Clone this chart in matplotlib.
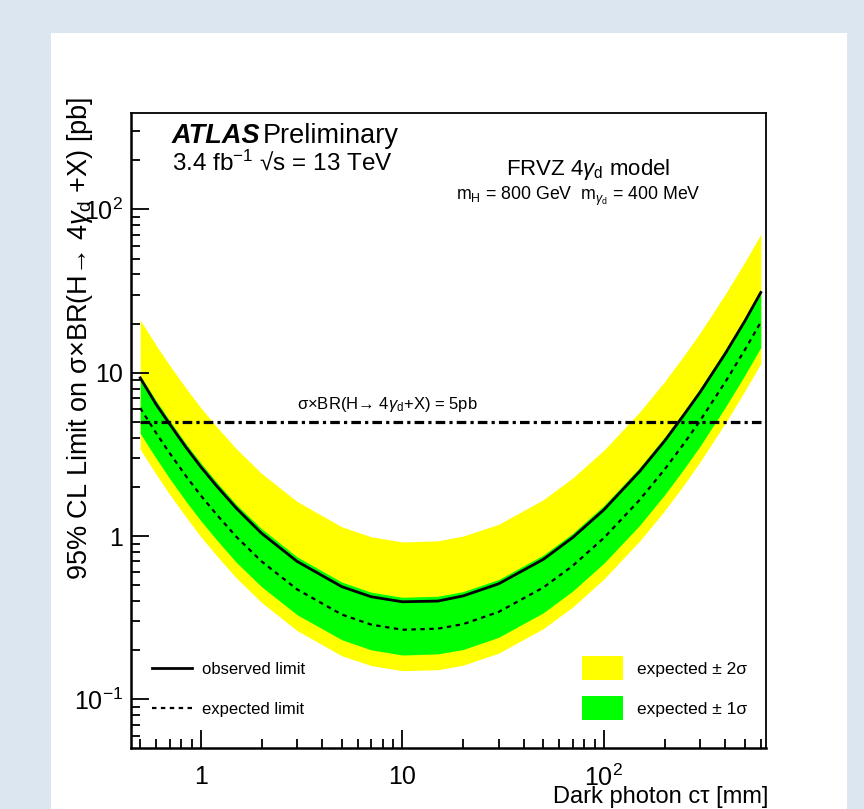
import numpy as np
import matplotlib.pyplot as plt
from matplotlib.lines import Line2D
from matplotlib.patches import Patch, Rectangle

plt.rcParams["font.family"] = ["Liberation Sans", "DejaVu Sans"]
plt.rcParams["mathtext.fontset"] = "custom"
plt.rcParams["mathtext.rm"] = "Liberation Sans"
plt.rcParams["mathtext.it"] = "Liberation Sans:italic"
plt.rcParams["mathtext.bf"] = "Liberation Sans:bold"

# ======================================
# DATA
# ======================================

ctau = [0.5, 0.6, 0.7, 0.85, 1, 1.2, 1.5, 2, 3, 5, 7, 10, 15, 20, 30, 50, 70, 100,
        150, 200, 250, 300, 400, 500, 600]

observed = [9.3, 6.4, 4.85, 3.45, 2.65, 2.02, 1.48, 1.04, 0.70, 0.49, 0.425, 0.396, 0.40,
            0.43, 0.51, 0.72, 0.98, 1.45, 2.48, 3.82, 5.55, 7.6, 13.1, 20.7, 31.0]
expected = [6.08, 4.27, 3.22, 2.30, 1.77, 1.35, 0.99, 0.70, 0.472, 0.331, 0.287, 0.267,
            0.271, 0.289, 0.343, 0.484, 0.658, 0.975, 1.66, 2.56, 3.70, 5.09, 8.78, 13.8, 20.4]

one_sigma_lo = [4.26, 2.99, 2.25, 1.61, 1.24, 0.945, 0.69, 0.49, 0.33, 0.232, 0.201, 0.187,
                0.190, 0.202, 0.240, 0.339, 0.461, 0.683, 1.16, 1.79, 2.59, 3.56, 6.15,
                9.66, 14.3]
one_sigma_hi = [9.6, 6.75, 5.09, 3.63, 2.80, 2.13, 1.56, 1.11, 0.746, 0.523, 0.453, 0.422,
                0.428, 0.457, 0.542, 0.765, 1.04, 1.54, 2.62, 4.04, 5.85, 8.04, 13.9,
                21.8, 32.2]
two_sigma_lo = [3.40, 2.39, 1.80, 1.29, 0.99, 0.756, 0.554, 0.392, 0.264, 0.185, 0.161, 0.150,
                0.152, 0.162, 0.192, 0.271, 0.368, 0.546, 0.93, 1.43, 2.07, 2.85, 4.92,
                7.73, 11.4]
two_sigma_hi = [21.0, 14.7, 11.1, 7.94, 6.1, 4.66, 3.42, 2.42, 1.63, 1.14, 0.99, 0.92,
                0.935, 1.0, 1.18, 1.67, 2.27, 3.36, 5.73, 8.83, 12.8, 17.6, 30.3, 47.6, 70.4]

reference_xsec = 5.0

x_ticks = [1, 10, 100]
x_tick_labels = ["1", "10", "$10^{2}$"]
y_ticks = [0.1, 1, 10, 100]
y_tick_labels = ["$10^{-1}$", "1", "10", "$10^{2}$"]

# ======================================
# FIGURE
# ======================================

fig = plt.figure(figsize=(8.64, 8.09), dpi=100)
fig.patch.set_facecolor("#dce6f0")
fig.patches.append(Rectangle((0.059, 0.0), 0.921, 0.9596, transform=fig.transFigure,
                             facecolor="white", edgecolor="none", zorder=-10))

ax = fig.add_axes([0.1516, 0.0754, 0.735, 0.7853])
ax.set_xscale("log")
ax.set_yscale("log")
ax.set_xlim(0.45, 637)
ax.set_ylim(0.0504, 391)

ax.fill_between(ctau, two_sigma_lo, two_sigma_hi, color="#ffff00", lw=0)
ax.fill_between(ctau, one_sigma_lo, one_sigma_hi, color="#00ff00", lw=0)
ax.plot(ctau, observed, color="black", lw=2.0)
ax.plot(ctau, expected, color="black", lw=1.6, linestyle=(0, (2, 2)))
ax.plot([ctau[0], ctau[-1]], [reference_xsec, reference_xsec], color="black", lw=2.3,
        linestyle=(0, (3, 1.3, 1, 1.3)))

# axes styling (ROOT-like)
for side in ["left", "bottom"]:
    ax.spines[side].set_linewidth(1.8)
for side in ["top", "right"]:
    ax.spines[side].set_linewidth(1.3)

ax.set_xticks(x_ticks)
ax.set_xticklabels(x_tick_labels)
ax.set_yticks(y_ticks)
ax.set_yticklabels(y_tick_labels)
ax.tick_params(axis="both", which="major", direction="in", length=13, width=1.3,
               labelsize=18, top=False, right=False)
ax.tick_params(axis="both", which="minor", direction="in", length=6.5, width=1.3,
               top=False, right=False)
ax.tick_params(axis="x", which="major", pad=12)
ax.tick_params(axis="y", which="major", pad=6)

# ======================================
# LABELS AND TEXT
# ======================================

fig.text(768 / 864, 1 - 803 / 809, "Dark photon c\u03c4 [mm]", ha="right", va="baseline",
         fontsize=17)
fig.text(80 / 864, 1 - 97 / 809,
         "95% CL Limit on \u03c3\u00d7BR(H\u2192 4$\\gamma_{\\rm d}$ +X) [pb]",
         rotation=90, ha="center", va="top", fontsize=19.5)

ax.text(0.064, 0.983, "ATLAS", transform=ax.transAxes, fontsize=19.5, fontweight="bold",
        fontstyle="italic", va="top")
ax.text(0.207, 0.983, "Preliminary", transform=ax.transAxes, fontsize=19.5, va="top")
ax.text(0.064, 0.942, "3.4 fb$^{-1}$ \u221as = 13 TeV", transform=ax.transAxes,
        fontsize=17.5, va="top")

ax.text(0.72, 0.93, "FRVZ 4$\\gamma_{\\rm d}$ model", transform=ax.transAxes,
        fontsize=16, ha="center", va="top")
ax.text(0.704, 0.886, "m$_{\\rm H}$ = 800 GeV  m$_{\\gamma_{\\rm d}}$ = 400 MeV",
        transform=ax.transAxes, fontsize=12.8, ha="center", va="top")

ax.text(0.262, 0.525, "\u03c3\u00d7BR(H\u2192 4$\\gamma_{\\rm d}$+X) = 5pb",
        transform=ax.transAxes, fontsize=12, ha="left", va="bottom")

# ======================================
# LEGENDS
# ======================================

line_handles = [
    Line2D([], [], color="black", lw=2.0),
    Line2D([], [], color="black", lw=1.6, linestyle=(0, (2, 2))),
]
leg1 = ax.legend(line_handles, ["observed limit", "expected limit"], loc="lower left",
                 bbox_to_anchor=(0.01, 0.025), frameon=False, fontsize=12,
                 handlelength=2.4, labelspacing=1.5, handletextpad=0.6)
ax.add_artist(leg1)

band_handles = [
    Patch(facecolor="#ffff00", edgecolor="none"),
    Patch(facecolor="#00ff00", edgecolor="none"),
]
ax.legend(band_handles, ["expected \u00b1 2\u03c3", "expected \u00b1 1\u03c3"],
          loc="lower right", bbox_to_anchor=(0.995, 0.02), frameon=False, fontsize=12.5,
          handlelength=2.4, handleheight=1.7, labelspacing=0.95, handletextpad=0.8)

plt.savefig("out.png", dpi=100, facecolor=fig.get_facecolor())
plt.close()
